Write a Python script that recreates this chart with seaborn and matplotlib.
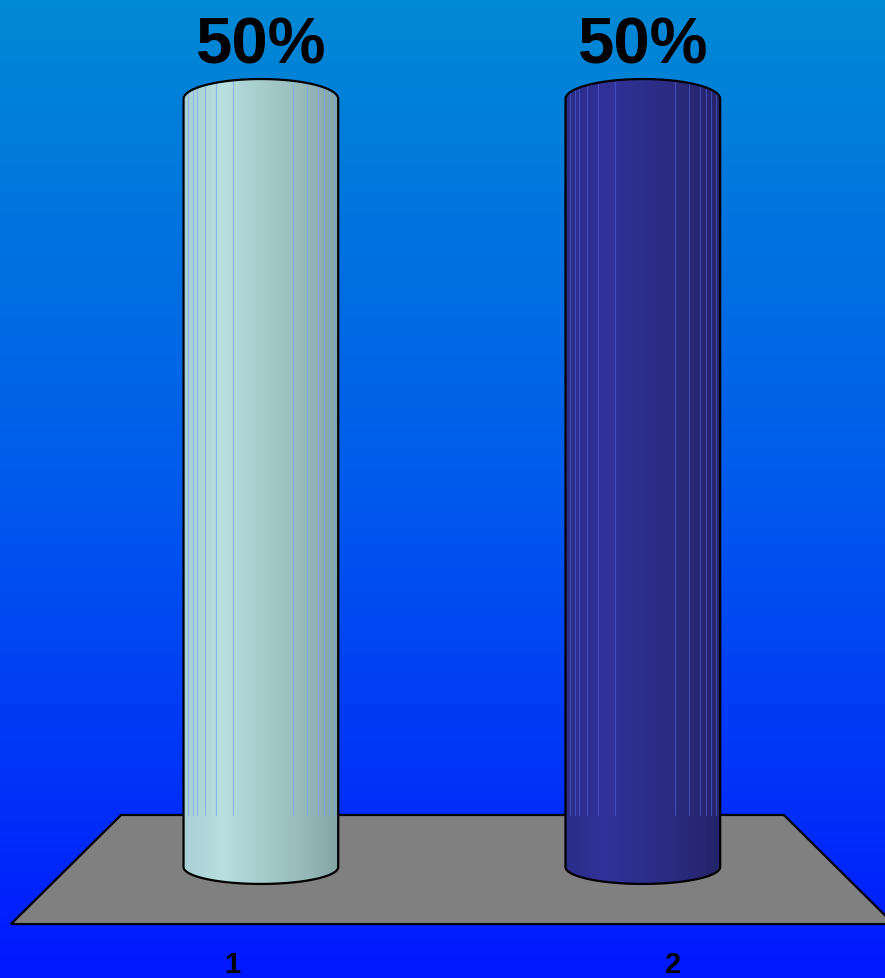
import numpy as np
import pandas as pd
import matplotlib
matplotlib.use("Agg")
import matplotlib.pyplot as plt
import seaborn as sns
from matplotlib.path import Path
from matplotlib.patches import PathPatch, Polygon
from matplotlib.colors import LinearSegmentedColormap

categories = ["1", "2"]
values = [50, 50]
bar_labels = ["50%", "50%"]

sns.set_style("white")
plt.rcParams['font.family'] = ['Liberation Sans', 'DejaVu Sans']
plt.rcParams['text.color'] = 'black'
plt.rcParams['xtick.color'] = 'black'

fig = plt.figure(figsize=(8.85, 9.79), dpi=100)

# blue gradient background
bg = fig.add_axes([0, 0, 1, 1])
bg_cmap = LinearSegmentedColormap.from_list("bg", ["#008ad4", "#005aec", "#0018ff"])
bg.imshow(np.linspace(0, 1, 256).reshape(-1, 1), aspect='auto', cmap=bg_cmap, extent=[0, 1, 0, 1])
bg.axis("off")

ax = fig.add_axes([0, 34 / 979, 1, 945 / 979])
ax.patch.set_alpha(0)

df = pd.DataFrame({"cat": categories, "val": values})
sns.barplot(data=df, x="cat", y="val", width=0.405, ax=ax, color="gray")

# floor
floor = Polygon([(-0.366, 3.39), (1.369, 3.39), (1.657, -3.71), (-0.654, -3.71)],
                closed=True, facecolor="#808080", edgecolor="black", lw=1.6, zorder=1)
ax.add_patch(floor)

cyl_colors = [
    ["#a8d0d4", "#b8e0e0", "#a6cccc", "#98bcbc", "#84a4a4"],
    ["#2c2c88", "#32329a", "#2e2e8c", "#2a2a7c", "#24246a"],
]
stripe_colors = ["#7aa6f0", "#4a5ad0"]
stripe_fr = [0.03, 0.06, 0.09, 0.14, 0.21, 0.32, 0.71, 0.8, 0.87, 0.91, 0.94, 0.97]

for i, p in enumerate(ax.patches[:len(values)]):
    p.set_alpha(0)
    x0, w, h = p.get_x(), p.get_width(), p.get_height()
    cx = x0 + w / 2
    t1 = np.linspace(0, np.pi, 60)
    t2 = np.linspace(np.pi, 2 * np.pi, 60)
    top = np.column_stack([cx + w / 2 * np.cos(t1), h + 1.3 * np.sin(t1)])
    bot = np.column_stack([cx + w / 2 * np.cos(t2), 1.1 * np.sin(t2)])
    verts = np.vstack([top, bot, top[:1]])
    shape = PathPatch(Path(verts, closed=True), facecolor="none", edgecolor="black", lw=1.6, zorder=5)
    ax.add_patch(shape)
    cmap = LinearSegmentedColormap.from_list("c%d" % i, cyl_colors[i])
    im = ax.imshow(np.linspace(0, 1, 256).reshape(1, -1), cmap=cmap, aspect='auto',
                   extent=(x0, x0 + w, -1.3, h + 1.5), zorder=3)
    im.set_clip_path(shape)
    for f in stripe_fr:
        ln, = ax.plot([x0 + f * w] * 2, [3.39, h + 1.5], color=stripe_colors[i], lw=0.8, alpha=0.7, zorder=4)
        ln.set_clip_path(shape)

ax.bar_label(ax.containers[0], labels=bar_labels, padding=17, fontsize=47,
             fontweight="bold", color="black")

ax.set_xlim(-0.683, 1.634)
ax.set_ylim(-5.01, 56.51)
ax.set_xticks([-0.076, 1.079], labels=categories, fontsize=21, fontweight="bold")
ax.tick_params(axis="x", length=0, pad=4, labelcolor="black")
ax.set_yticks([])
ax.set_xlabel("")
ax.set_ylabel("")
sns.despine(ax=ax, left=True, bottom=True)

fig.savefig("out.png", dpi=100)
